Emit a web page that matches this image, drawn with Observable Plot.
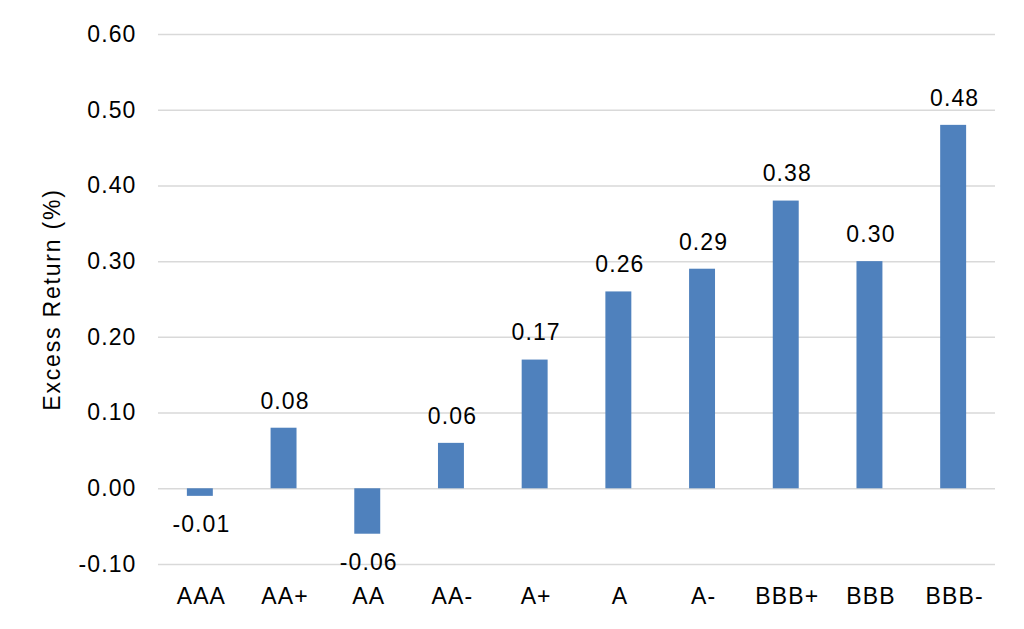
<!DOCTYPE html>
<html>
<head>
<meta charset="utf-8">
<script src="https://cdn.jsdelivr.net/npm/d3@7"></script>
<script src="https://cdn.jsdelivr.net/npm/@observablehq/plot@0.6"></script>
<style>
  html, body { margin: 0; padding: 0; background: #fff; }
  #chart svg { display: block; }
  #chart svg text { letter-spacing: 1.1px; }
</style>
</head>
<body>
<div id="chart"></div>
<script>
const ratings = ["AAA", "AA+", "AA", "AA-", "A+", "A", "A-", "BBB+", "BBB", "BBB-"];
const excessReturn = [-0.01, 0.08, -0.06, 0.06, 0.17, 0.26, 0.29, 0.38, 0.30, 0.48];
const yTicks = [-0.10, 0.00, 0.10, 0.20, 0.30, 0.40, 0.50, 0.60];

const data = ratings.map((r, i) => ({rating: r, value: excessReturn[i]}));
const font = "Liberation Sans, Arial, sans-serif";
const yLabel = "Excess Return (%)";

const chart = Plot.plot({
  width: 1024,
  height: 629,
  marginLeft: 158,
  marginRight: 29,
  marginTop: 34,
  marginBottom: 65,
  style: {fontFamily: font, fontSize: "23px", color: "#000", background: "#fff"},
  x: {domain: ratings, paddingInner: 0.69, paddingOuter: 0.345, round: false, label: null},
  y: {domain: [-0.10, 0.60]},
  marks: [
    Plot.gridY(yTicks, {stroke: "#d9d9d9", strokeOpacity: 1, strokeWidth: 1.5}),
    Plot.barY(data, {x: "rating", y: "value", fill: "#4f81bd"}),
    Plot.text(data.filter(d => d.value >= 0), {x: "rating", y: "value", text: d => d.value.toFixed(2), dy: -27, dx: 1, fill: "#000", fontSize: 23}),
    Plot.text(data.filter(d => d.value < 0), {x: "rating", y: "value", text: d => d.value.toFixed(2), dy: 28, dx: 1, fill: "#000", fontSize: 23}),
    Plot.axisX({tickSize: 0, tickPadding: 23, fontSize: 23, label: null, dx: 1}),
    Plot.axisY({ticks: yTicks, tickFormat: d => d.toFixed(2), tickSize: 0, tickPadding: 22, fontSize: 23,
      label: yLabel, labelAnchor: "center", labelArrow: "none", labelOffset: 115})
  ]
});
document.getElementById("chart").appendChild(chart);
d3.select(chart).selectAll("text").filter(function() { return this.textContent === yLabel; })
  .style("letter-spacing", "1.8px");
</script>
</body>
</html>
